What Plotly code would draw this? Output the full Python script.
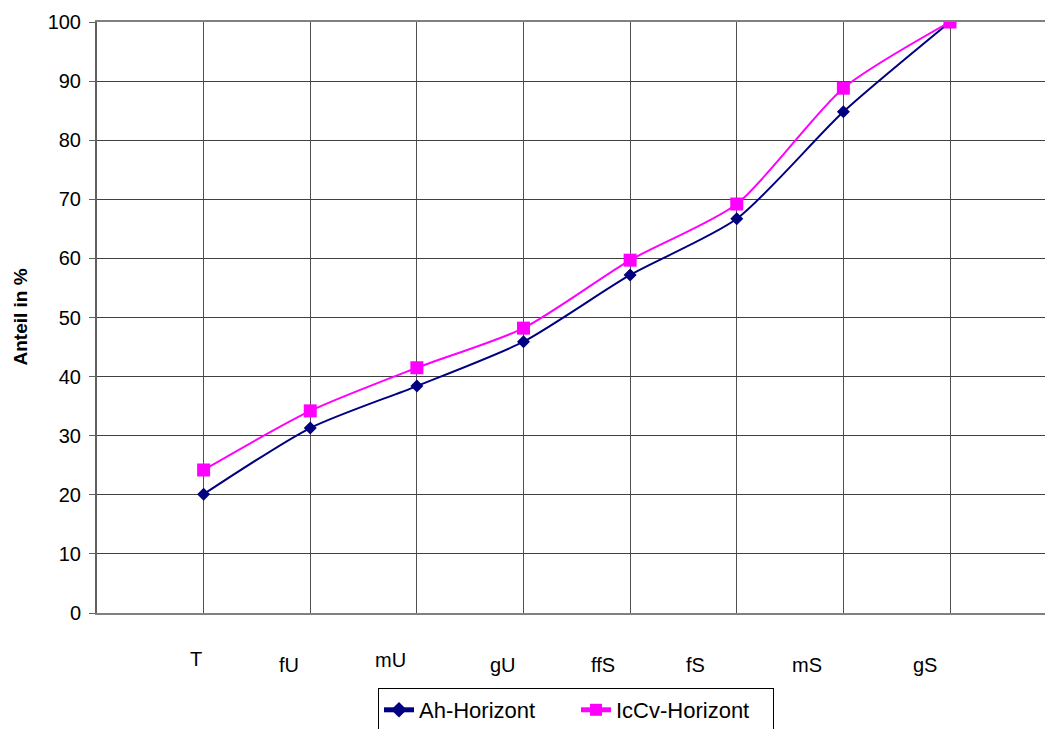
import plotly.graph_objects as go

# Kornfraktionen (Summenkurve)
categories = ["T", "fU", "mU", "gU", "ffS", "fS", "mS", "gS"]
ah_horizont = [20.1, 31.3, 38.4, 45.9, 57.2, 66.7, 84.8, 100.0]
iccv_horizont = [24.2, 34.2, 41.5, 48.2, 59.7, 69.2, 88.8, 100.0]

# Lage der Kategoriebeschriftungen relativ zur jeweiligen Gitterlinie
label_dx = [-0.075, -0.197, -0.244, -0.188, -0.253, -0.385, -0.338, -0.235]
label_dy = [-46, -52, -47, -52, -52, -52, -52, -52]

FONT = "Liberation Sans, Arial, sans-serif"
xpos = list(range(len(categories)))

fig = go.Figure()
fig.add_trace(go.Scatter(
    x=xpos, y=ah_horizont, name="Ah-Horizont", mode="lines+markers",
    line=dict(color="#000080", width=2, shape="spline", smoothing=0.7),
    marker=dict(symbol="diamond", size=10, color="#000080"),
))
fig.add_trace(go.Scatter(
    x=xpos, y=iccv_horizont, name="IcCv-Horizont", mode="lines+markers",
    line=dict(color="#FF00FF", width=2, shape="spline", smoothing=0.7),
    marker=dict(symbol="square", size=13, color="#FF00FF"),
))

for i, lab in enumerate(categories):
    fig.add_annotation(
        x=i + label_dx[i], y=0, xref="x", yref="paper", yshift=label_dy[i],
        text=lab, showarrow=False, xanchor="center", yanchor="middle",
        font=dict(family=FONT, size=20, color="black"),
    )

fig.add_annotation(
    x=0, y=0.5, xref="paper", yref="paper", xshift=-77,
    text="<b>Anteil in %</b>", textangle=-90, showarrow=False,
    xanchor="center", yanchor="middle",
    font=dict(family=FONT, size=19, color="black"),
)

fig.update_layout(
    width=1045, height=729,
    margin=dict(l=97, r=0, t=22, b=116, autoexpand=False),
    paper_bgcolor="white", plot_bgcolor="white",
    font=dict(family=FONT, size=20, color="black"),
    showlegend=True,
    legend=dict(
        orientation="h", x=0.2964, xanchor="left", y=-0.1269, yanchor="top",
        bordercolor="black", borderwidth=1, bgcolor="white",
        font=dict(family=FONT, size=22, color="black"),
        entrywidth=152, entrywidthmode="pixels",
        itemsizing="constant",
    ),
    xaxis=dict(
        range=[-1, 7.891], tick0=0, dtick=1, showticklabels=False,
        showgrid=True, gridcolor="#505050", gridwidth=1,
        showline=True, linecolor="#808080", linewidth=2, mirror=True,
        ticks="", zeroline=False, fixedrange=True,
    ),
    yaxis=dict(
        range=[0, 100], tick0=0, dtick=10,
        showgrid=True, gridcolor="#404040", gridwidth=1,
        showline=True, linecolor="#606060", linewidth=2,
        ticks="outside", ticklen=6, tickcolor="#606060", tickwidth=1,
        ticklabelstandoff=4,
        tickfont=dict(family=FONT, size=20, color="black"),
        zeroline=False, fixedrange=True,
    ),
)

fig.write_html("out.html")
